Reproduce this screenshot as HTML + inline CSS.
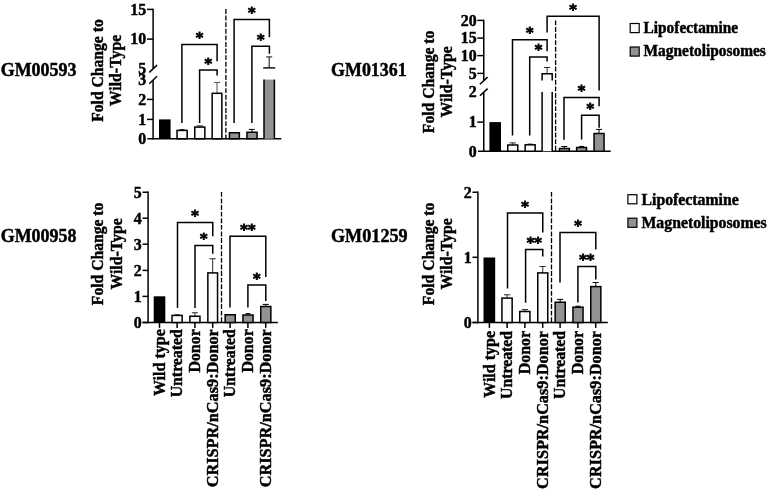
<!DOCTYPE html>
<html lang="en"><head><meta charset="utf-8"><title>Fold Change to Wild-Type</title>
<style>html,body{margin:0;padding:0;background:#fff;}svg{display:block;}text{font-family:"Liberation Serif",serif;font-weight:bold;fill:#000;stroke:#000;stroke-width:0.45px;}text.st{font-family:"DejaVu Sans","Liberation Sans",sans-serif;stroke-width:0.85px;}</style>
</head><body>
<svg width="768" height="489" viewBox="0 0 768 489">
<rect width="768" height="489" fill="#fff"/>
<text x="0.7" y="76.0" font-size="18.5" text-anchor="start" textLength="75.8" lengthAdjust="spacingAndGlyphs">GM00593</text>
<text x="331.1" y="76.0" font-size="18.5" text-anchor="start" textLength="75.5" lengthAdjust="spacingAndGlyphs">GM01361</text>
<text x="0.7" y="242.2" font-size="18.5" text-anchor="start" textLength="75.8" lengthAdjust="spacingAndGlyphs">GM00958</text>
<text x="331.0" y="242.4" font-size="18.5" text-anchor="start" textLength="76.6" lengthAdjust="spacingAndGlyphs">GM01259</text>
<rect x="630.2" y="23.5" width="9.0" height="9.1" fill="#fafafa" stroke="#000" stroke-width="1.2"/>
<rect x="630.2" y="47.0" width="9.0" height="9.1" fill="#929292" stroke="#000" stroke-width="1.2"/>
<text x="643.6" y="33" font-size="15.7" text-anchor="start" textLength="94.6" lengthAdjust="spacingAndGlyphs">Lipofectamine</text>
<text x="643.6" y="56" font-size="15.7" text-anchor="start" textLength="122.2" lengthAdjust="spacingAndGlyphs">Magnetoliposomes</text>
<rect x="627.9" y="194.7" width="9.0" height="9.1" fill="#fafafa" stroke="#000" stroke-width="1.2"/>
<rect x="627.9" y="218.2" width="9.0" height="9.1" fill="#929292" stroke="#000" stroke-width="1.2"/>
<text x="641.5" y="205" font-size="15.7" text-anchor="start" textLength="97.3" lengthAdjust="spacingAndGlyphs">Lipofectamine</text>
<text x="641.5" y="228" font-size="15.7" text-anchor="start" textLength="125.2" lengthAdjust="spacingAndGlyphs">Magnetoliposomes</text>
<text x="103" y="70.5" font-size="16" text-anchor="middle" transform="rotate(-90 103 70.5)" textLength="102.5" lengthAdjust="spacingAndGlyphs">Fold Change to</text>
<text x="121" y="70.5" font-size="16" text-anchor="middle" transform="rotate(-90 121 70.5)" textLength="71.4" lengthAdjust="spacingAndGlyphs">Wild-Type</text>
<line x1="153.1" y1="8.65" x2="153.1" y2="68.2" stroke="#000" stroke-width="1.5" />
<line x1="153.1" y1="80.2" x2="153.1" y2="139.5" stroke="#000" stroke-width="1.5" />
<line x1="149.3" y1="72.4" x2="157.0" y2="65.1" stroke="#000" stroke-width="1.5" />
<line x1="149.3" y1="83.7" x2="157.0" y2="76.2" stroke="#000" stroke-width="1.5" />
<line x1="147.3" y1="138.75" x2="281.3" y2="138.75" stroke="#000" stroke-width="1.5" />
<line x1="147.0" y1="9.4" x2="153.1" y2="9.4" stroke="#000" stroke-width="1.5" />
<line x1="147.0" y1="39.1" x2="153.1" y2="39.1" stroke="#000" stroke-width="1.5" />
<line x1="147.0" y1="99.4" x2="153.1" y2="99.4" stroke="#000" stroke-width="1.5" />
<line x1="147.0" y1="119.4" x2="153.1" y2="119.4" stroke="#000" stroke-width="1.5" />
<text x="146.2" y="14.7" font-size="15.9" text-anchor="end">15</text>
<text x="146.2" y="44.4" font-size="15.9" text-anchor="end">10</text>
<text x="146.2" y="74.2" font-size="15.9" text-anchor="end">5</text>
<text x="146.2" y="85.3" font-size="15.9" text-anchor="end">3</text>
<text x="146.2" y="104.7" font-size="15.9" text-anchor="end">2</text>
<text x="146.2" y="124.7" font-size="15.9" text-anchor="end">1</text>
<text x="146.2" y="144.2" font-size="15.9" text-anchor="end">0</text>
<line x1="225.9" y1="9.0" x2="225.9" y2="139.6" stroke="#000" stroke-width="1.3" stroke-dasharray="4.9 1.7"/>
<rect x="159.0" y="119.4" width="11.6" height="19.35" fill="#000"/>
<line x1="182.10000000000002" y1="129.6" x2="182.10000000000002" y2="130.4" stroke="#2a2a2a" stroke-width="1.0" />
<line x1="179.6" y1="129.6" x2="184.6" y2="129.6" stroke="#2a2a2a" stroke-width="1.0" />
<rect x="177.05" y="130.4" width="10.1" height="8.35" fill="#fafafa" stroke="#000" stroke-width="1.5"/>
<line x1="199.8" y1="125.9" x2="199.8" y2="127.1" stroke="#2a2a2a" stroke-width="1.0" />
<line x1="196.4" y1="125.9" x2="203.1" y2="125.9" stroke="#2a2a2a" stroke-width="1.0" />
<rect x="194.75" y="127.1" width="10.1" height="11.65" fill="#fafafa" stroke="#000" stroke-width="1.5"/>
<line x1="217.0" y1="82.5" x2="217.0" y2="93.3" stroke="#555" stroke-width="1.0" />
<line x1="214.0" y1="82.5" x2="220.1" y2="82.5" stroke="#555" stroke-width="1.0" />
<rect x="212.15" y="93.3" width="9.7" height="45.45" fill="#fafafa" stroke="#000" stroke-width="1.5"/>
<rect x="229.45" y="132.75" width="9.9" height="6.0" fill="#929292" stroke="#000" stroke-width="1.5"/>
<line x1="252.0" y1="129.4" x2="252.0" y2="132.25" stroke="#000" stroke-width="1.0" />
<line x1="248.8" y1="129.4" x2="254.8" y2="129.4" stroke="#000" stroke-width="1.0" />
<rect x="246.95" y="132.25" width="10.1" height="6.5" fill="#929292" stroke="#000" stroke-width="1.5"/>
<rect x="264.0" y="79.6" width="10.4" height="59.15" fill="#929292"/>
<line x1="264.0" y1="79.6" x2="264.0" y2="138.75" stroke="#000" stroke-width="1.5" />
<line x1="274.4" y1="79.6" x2="274.4" y2="138.75" stroke="#000" stroke-width="1.5" />
<line x1="269.2" y1="56.9" x2="269.2" y2="67.9" stroke="#222" stroke-width="1.1" />
<line x1="266.2" y1="56.9" x2="272.2" y2="56.9" stroke="#222" stroke-width="1.1" />
<line x1="263.2" y1="67.9" x2="275.2" y2="67.9" stroke="#000" stroke-width="1.4" />
<polyline points="181.9,122.9 181.9,44.6 217.1,44.6 217.1,61.25" fill="none" stroke="#000" stroke-width="1.5" stroke-linejoin="miter"/>
<text class="st" x="199.5" y="42" font-size="14.4" text-anchor="middle">*</text>
<polyline points="199.6,122.9 199.6,70.0 217.1,70.0 217.1,75.6" fill="none" stroke="#000" stroke-width="1.5" stroke-linejoin="miter"/>
<text class="st" x="208.35" y="68" font-size="14.4" text-anchor="middle">*</text>
<polyline points="234.1,122.9 234.1,19.6 269.4,19.6 269.4,37.25" fill="none" stroke="#000" stroke-width="1.5" stroke-linejoin="miter"/>
<text class="st" x="251.75" y="17" font-size="14.4" text-anchor="middle">*</text>
<polyline points="251.9,122.9 251.9,46.25 269.4,46.25 269.4,53.75" fill="none" stroke="#000" stroke-width="1.5" stroke-linejoin="miter"/>
<text class="st" x="260.65" y="44" font-size="14.4" text-anchor="middle">*</text>
<text x="434" y="81.9" font-size="16" text-anchor="middle" transform="rotate(-90 434 81.9)" textLength="102.5" lengthAdjust="spacingAndGlyphs">Fold Change to</text>
<text x="452" y="81.9" font-size="16" text-anchor="middle" transform="rotate(-90 452 81.9)" textLength="71.4" lengthAdjust="spacingAndGlyphs">Wild-Type</text>
<line x1="483.75" y1="19.65" x2="483.75" y2="80.4" stroke="#000" stroke-width="1.5" />
<line x1="483.75" y1="92.4" x2="483.75" y2="152.0" stroke="#000" stroke-width="1.5" />
<line x1="479.9" y1="84.3" x2="487.6" y2="77.1" stroke="#000" stroke-width="1.5" />
<line x1="479.9" y1="95.8" x2="487.6" y2="88.6" stroke="#000" stroke-width="1.5" />
<line x1="478.0" y1="151.25" x2="610.7" y2="151.25" stroke="#000" stroke-width="1.5" />
<line x1="477.3" y1="20.4" x2="483.75" y2="20.4" stroke="#000" stroke-width="1.5" />
<line x1="477.3" y1="38.1" x2="483.75" y2="38.1" stroke="#000" stroke-width="1.5" />
<line x1="477.3" y1="55.6" x2="483.75" y2="55.6" stroke="#000" stroke-width="1.5" />
<line x1="477.3" y1="73.4" x2="483.75" y2="73.4" stroke="#000" stroke-width="1.5" />
<line x1="477.3" y1="122.1" x2="483.75" y2="122.1" stroke="#000" stroke-width="1.5" />
<text x="476.6" y="25.9" font-size="15.9" text-anchor="end">20</text>
<text x="476.6" y="43.4" font-size="15.9" text-anchor="end">15</text>
<text x="476.6" y="60.9" font-size="15.9" text-anchor="end">10</text>
<text x="476.6" y="78.8" font-size="15.9" text-anchor="end">5</text>
<text x="476.6" y="96.9" font-size="15.9" text-anchor="end">2</text>
<text x="476.6" y="127.3" font-size="15.9" text-anchor="end">1</text>
<text x="476.6" y="156.9" font-size="15.9" text-anchor="end">0</text>
<line x1="555.6" y1="20.4" x2="555.6" y2="152.2" stroke="#000" stroke-width="1.3" stroke-dasharray="4.9 1.7"/>
<rect x="489.4" y="122.1" width="11.6" height="29.15" fill="#000"/>
<line x1="512.75" y1="142.9" x2="512.75" y2="145.0" stroke="#2a2a2a" stroke-width="1.0" />
<line x1="509.6" y1="142.9" x2="515.9" y2="142.9" stroke="#2a2a2a" stroke-width="1.0" />
<rect x="507.75" y="145.0" width="10.0" height="6.25" fill="#fafafa" stroke="#000" stroke-width="1.5"/>
<line x1="530.15" y1="144.1" x2="530.15" y2="144.8" stroke="#2a2a2a" stroke-width="1.0" />
<line x1="527.6" y1="144.1" x2="532.6" y2="144.1" stroke="#2a2a2a" stroke-width="1.0" />
<rect x="525.15" y="144.8" width="10.0" height="6.45" fill="#fafafa" stroke="#000" stroke-width="1.5"/>
<rect x="542.1" y="73.1" width="10.1" height="7.3" fill="#fafafa"/>
<rect x="542.1" y="92.1" width="10.1" height="59.15" fill="#fafafa"/>
<line x1="547.1" y1="67.5" x2="547.1" y2="73.1" stroke="#2a2a2a" stroke-width="1.0" />
<line x1="544.1" y1="67.5" x2="550.1" y2="67.5" stroke="#2a2a2a" stroke-width="1.0" />
<polyline points="542.1,80.4 542.1,73.7 552.2,73.7 552.2,80.4" fill="none" stroke="#000" stroke-width="1.5"/>
<line x1="542.1" y1="92.1" x2="542.1" y2="151.25" stroke="#000" stroke-width="1.5" />
<line x1="552.2" y1="92.1" x2="552.2" y2="151.25" stroke="#000" stroke-width="1.5" />
<line x1="564.4000000000001" y1="146.5" x2="564.4000000000001" y2="148.5" stroke="#000" stroke-width="1.0" />
<line x1="561.3" y1="146.5" x2="567.3" y2="146.5" stroke="#000" stroke-width="1.0" />
<rect x="559.45" y="148.5" width="9.9" height="2.75" fill="#929292" stroke="#000" stroke-width="1.5"/>
<line x1="581.5999999999999" y1="146.4" x2="581.5999999999999" y2="147.5" stroke="#000" stroke-width="1.0" />
<line x1="579.0" y1="146.4" x2="584.2" y2="146.4" stroke="#000" stroke-width="1.0" />
<rect x="576.65" y="147.5" width="9.9" height="3.75" fill="#929292" stroke="#000" stroke-width="1.5"/>
<line x1="599.05" y1="129.4" x2="599.05" y2="133.5" stroke="#000" stroke-width="1.0" />
<line x1="596.0" y1="129.4" x2="602.0" y2="129.4" stroke="#000" stroke-width="1.0" />
<rect x="594.05" y="133.5" width="10.0" height="17.75" fill="#929292" stroke="#000" stroke-width="1.5"/>
<polyline points="512.5,135.6 512.5,39.75 547.1,39.75 547.1,51.25" fill="none" stroke="#000" stroke-width="1.5" stroke-linejoin="miter"/>
<text class="st" x="529.8" y="37" font-size="14.4" text-anchor="middle">*</text>
<polyline points="529.7,135.6 529.7,56.9 547.1,56.9 547.1,61.5" fill="none" stroke="#000" stroke-width="1.5" stroke-linejoin="miter"/>
<text class="st" x="538.4" y="54" font-size="14.4" text-anchor="middle">*</text>
<polyline points="547.1,32.5 547.1,16.25 599.1,16.25 599.1,90.6" fill="none" stroke="#000" stroke-width="1.5" stroke-linejoin="miter"/>
<text class="st" x="573.1" y="14" font-size="14.4" text-anchor="middle">*</text>
<polyline points="564.0,139.75 564.0,97.5 599.1,97.5 599.1,106.25" fill="none" stroke="#000" stroke-width="1.5" stroke-linejoin="miter"/>
<text class="st" x="581.55" y="95" font-size="14.4" text-anchor="middle">*</text>
<polyline points="581.6,139.4 581.6,115.25 599.1,115.25 599.1,127.75" fill="none" stroke="#000" stroke-width="1.5" stroke-linejoin="miter"/>
<text class="st" x="590.35" y="113" font-size="14.4" text-anchor="middle">*</text>
<text x="103" y="253.9" font-size="16" text-anchor="middle" transform="rotate(-90 103 253.9)" textLength="102.5" lengthAdjust="spacingAndGlyphs">Fold Change to</text>
<text x="122" y="253.9" font-size="16" text-anchor="middle" transform="rotate(-90 122 253.9)" textLength="71.4" lengthAdjust="spacingAndGlyphs">Wild-Type</text>
<line x1="148.1" y1="191.5" x2="148.1" y2="323.25" stroke="#000" stroke-width="1.5" />
<line x1="142.5" y1="322.5" x2="277.8" y2="322.5" stroke="#000" stroke-width="1.5" />
<line x1="142.5" y1="192.25" x2="148.1" y2="192.25" stroke="#000" stroke-width="1.5" />
<text x="141.6" y="197.55" font-size="15.9" text-anchor="end">5</text>
<line x1="142.5" y1="218.2" x2="148.1" y2="218.2" stroke="#000" stroke-width="1.5" />
<text x="141.6" y="223.5" font-size="15.9" text-anchor="end">4</text>
<line x1="142.5" y1="244.2" x2="148.1" y2="244.2" stroke="#000" stroke-width="1.5" />
<text x="141.6" y="249.5" font-size="15.9" text-anchor="end">3</text>
<line x1="142.5" y1="270.4" x2="148.1" y2="270.4" stroke="#000" stroke-width="1.5" />
<text x="141.6" y="275.7" font-size="15.9" text-anchor="end">2</text>
<line x1="142.5" y1="296.4" x2="148.1" y2="296.4" stroke="#000" stroke-width="1.5" />
<text x="141.6" y="301.7" font-size="15.9" text-anchor="end">1</text>
<line x1="142.5" y1="322.5" x2="148.1" y2="322.5" stroke="#000" stroke-width="1.5" />
<text x="141.6" y="327.8" font-size="15.9" text-anchor="end">0</text>
<line x1="221.5" y1="191.9" x2="221.5" y2="323.4" stroke="#000" stroke-width="1.3" stroke-dasharray="4.9 1.7"/>
<rect x="153.7" y="296.3" width="11.6" height="26.2" fill="#000"/>
<line x1="177.10000000000002" y1="314.8" x2="177.10000000000002" y2="315.4" stroke="#2a2a2a" stroke-width="1.0" />
<line x1="174.6" y1="314.8" x2="179.6" y2="314.8" stroke="#2a2a2a" stroke-width="1.0" />
<rect x="172.05" y="315.4" width="10.1" height="7.1" fill="#fafafa" stroke="#000" stroke-width="1.5"/>
<line x1="194.89999999999998" y1="312.75" x2="194.89999999999998" y2="316.25" stroke="#2a2a2a" stroke-width="1.0" />
<line x1="191.9" y1="312.75" x2="197.9" y2="312.75" stroke="#2a2a2a" stroke-width="1.0" />
<rect x="189.85" y="316.25" width="10.1" height="6.25" fill="#fafafa" stroke="#000" stroke-width="1.5"/>
<line x1="212.7" y1="258.75" x2="212.7" y2="272.9" stroke="#2a2a2a" stroke-width="1.0" />
<line x1="209.5" y1="258.75" x2="215.7" y2="258.75" stroke="#2a2a2a" stroke-width="1.0" />
<rect x="207.85" y="272.9" width="9.7" height="49.6" fill="#fafafa" stroke="#000" stroke-width="1.5"/>
<rect x="225.15" y="314.75" width="10.1" height="7.75" fill="#929292" stroke="#000" stroke-width="1.5"/>
<line x1="248.0" y1="313.7" x2="248.0" y2="315.0" stroke="#000" stroke-width="1.0" />
<line x1="245.4" y1="313.7" x2="250.6" y2="313.7" stroke="#000" stroke-width="1.0" />
<rect x="242.95" y="315.0" width="10.1" height="7.5" fill="#929292" stroke="#000" stroke-width="1.5"/>
<line x1="265.8" y1="304.4" x2="265.8" y2="306.5" stroke="#000" stroke-width="1.0" />
<line x1="262.6" y1="304.4" x2="268.8" y2="304.4" stroke="#000" stroke-width="1.0" />
<rect x="260.75" y="306.5" width="10.1" height="16.0" fill="#929292" stroke="#000" stroke-width="1.5"/>
<line x1="159.5" y1="322.5" x2="159.5" y2="327.9" stroke="#000" stroke-width="1.5" />
<text x="164.8" y="329.2" font-size="16.2" text-anchor="end" transform="rotate(-90 164.8 329.2)" textLength="66.9" lengthAdjust="spacingAndGlyphs">Wild type</text>
<line x1="177.1" y1="322.5" x2="177.1" y2="327.9" stroke="#000" stroke-width="1.5" />
<text x="182.4" y="329.2" font-size="16.2" text-anchor="end" transform="rotate(-90 182.4 329.2)" textLength="68.1" lengthAdjust="spacingAndGlyphs">Untreated</text>
<line x1="194.9" y1="322.5" x2="194.9" y2="327.9" stroke="#000" stroke-width="1.5" />
<text x="199.8" y="329.2" font-size="16.2" text-anchor="end" transform="rotate(-90 199.8 329.2)" textLength="43.4" lengthAdjust="spacingAndGlyphs">Donor</text>
<line x1="212.7" y1="322.5" x2="212.7" y2="327.9" stroke="#000" stroke-width="1.5" />
<text x="217.6" y="329.2" font-size="16.2" text-anchor="end" transform="rotate(-90 217.6 329.2)" textLength="158.0" lengthAdjust="spacingAndGlyphs">CRISPR/nCas9:Donor</text>
<line x1="230.1" y1="322.5" x2="230.1" y2="327.9" stroke="#000" stroke-width="1.5" />
<text x="235.4" y="329.2" font-size="16.2" text-anchor="end" transform="rotate(-90 235.4 329.2)" textLength="68.1" lengthAdjust="spacingAndGlyphs">Untreated</text>
<line x1="247.9" y1="322.5" x2="247.9" y2="327.9" stroke="#000" stroke-width="1.5" />
<text x="252.8" y="329.2" font-size="16.2" text-anchor="end" transform="rotate(-90 252.8 329.2)" textLength="43.4" lengthAdjust="spacingAndGlyphs">Donor</text>
<line x1="265.7" y1="322.5" x2="265.7" y2="327.9" stroke="#000" stroke-width="1.5" />
<text x="270.7" y="329.2" font-size="16.2" text-anchor="end" transform="rotate(-90 270.7 329.2)" textLength="158.0" lengthAdjust="spacingAndGlyphs">CRISPR/nCas9:Donor</text>
<polyline points="177.5,308.1 177.5,222.5 212.75,222.5 212.75,236.25" fill="none" stroke="#000" stroke-width="1.5" stroke-linejoin="miter"/>
<text class="st" x="195.12" y="220" font-size="14.4" text-anchor="middle">*</text>
<polyline points="195.0,308.1 195.0,245.6 212.75,245.6 212.75,253.75" fill="none" stroke="#000" stroke-width="1.5" stroke-linejoin="miter"/>
<text class="st" x="203.88" y="243" font-size="14.4" text-anchor="middle">*</text>
<polyline points="230.0,307.5 230.0,236.2 265.8,236.2 265.8,276.9" fill="none" stroke="#000" stroke-width="1.5" stroke-linejoin="miter"/>
<text class="st" x="247.9" y="234" font-size="14.4" text-anchor="middle">**</text>
<polyline points="247.9,307.5 247.9,285.0 265.8,285.0 265.8,301.0" fill="none" stroke="#000" stroke-width="1.5" stroke-linejoin="miter"/>
<text class="st" x="256.85" y="283" font-size="14.4" text-anchor="middle">*</text>
<text x="434" y="253.9" font-size="16" text-anchor="middle" transform="rotate(-90 434 253.9)" textLength="102.5" lengthAdjust="spacingAndGlyphs">Fold Change to</text>
<text x="452" y="253.9" font-size="16" text-anchor="middle" transform="rotate(-90 452 253.9)" textLength="71.4" lengthAdjust="spacingAndGlyphs">Wild-Type</text>
<line x1="477.9" y1="191.5" x2="477.9" y2="323.25" stroke="#000" stroke-width="1.5" />
<line x1="472.5" y1="322.5" x2="607.8" y2="322.5" stroke="#000" stroke-width="1.5" />
<line x1="472.5" y1="192.25" x2="477.9" y2="192.25" stroke="#000" stroke-width="1.5" />
<text x="471.6" y="197.55" font-size="15.9" text-anchor="end">2</text>
<line x1="472.5" y1="257.3" x2="477.9" y2="257.3" stroke="#000" stroke-width="1.5" />
<text x="471.6" y="262.6" font-size="15.9" text-anchor="end">1</text>
<line x1="472.5" y1="322.5" x2="477.9" y2="322.5" stroke="#000" stroke-width="1.5" />
<text x="471.6" y="327.8" font-size="15.9" text-anchor="end">0</text>
<line x1="551.5" y1="191.9" x2="551.5" y2="323.4" stroke="#000" stroke-width="1.3" stroke-dasharray="4.9 1.7"/>
<rect x="483.5" y="257.5" width="11.7" height="65.0" fill="#000"/>
<line x1="507.04999999999995" y1="294.75" x2="507.04999999999995" y2="298.1" stroke="#2a2a2a" stroke-width="1.0" />
<line x1="504.0" y1="294.75" x2="510.3" y2="294.75" stroke="#2a2a2a" stroke-width="1.0" />
<rect x="501.95" y="298.1" width="10.2" height="24.4" fill="#fafafa" stroke="#000" stroke-width="1.5"/>
<line x1="524.85" y1="309.6" x2="524.85" y2="311.5" stroke="#2a2a2a" stroke-width="1.0" />
<line x1="521.7" y1="309.6" x2="528.1" y2="309.6" stroke="#2a2a2a" stroke-width="1.0" />
<rect x="519.75" y="311.5" width="10.2" height="11.0" fill="#fafafa" stroke="#000" stroke-width="1.5"/>
<line x1="542.75" y1="266.5" x2="542.75" y2="272.9" stroke="#2a2a2a" stroke-width="1.0" />
<line x1="539.5" y1="266.5" x2="545.7" y2="266.5" stroke="#2a2a2a" stroke-width="1.0" />
<rect x="537.75" y="272.9" width="10.0" height="49.6" fill="#fafafa" stroke="#000" stroke-width="1.5"/>
<line x1="560.2" y1="299.4" x2="560.2" y2="302.25" stroke="#000" stroke-width="1.0" />
<line x1="557.0" y1="299.4" x2="563.2" y2="299.4" stroke="#000" stroke-width="1.0" />
<rect x="555.15" y="302.25" width="10.1" height="20.25" fill="#929292" stroke="#000" stroke-width="1.5"/>
<line x1="578.0" y1="306.2" x2="578.0" y2="307.2" stroke="#000" stroke-width="1.0" />
<line x1="575.4" y1="306.2" x2="580.6" y2="306.2" stroke="#000" stroke-width="1.0" />
<rect x="572.95" y="307.2" width="10.1" height="15.3" fill="#929292" stroke="#000" stroke-width="1.5"/>
<line x1="595.8" y1="282.5" x2="595.8" y2="286.6" stroke="#000" stroke-width="1.0" />
<line x1="592.6" y1="282.5" x2="598.6" y2="282.5" stroke="#000" stroke-width="1.0" />
<rect x="590.75" y="286.6" width="10.1" height="35.9" fill="#929292" stroke="#000" stroke-width="1.5"/>
<line x1="489.4" y1="322.5" x2="489.4" y2="327.9" stroke="#000" stroke-width="1.5" />
<text x="494.7" y="330.9" font-size="16.2" text-anchor="end" transform="rotate(-90 494.7 330.9)" textLength="66.9" lengthAdjust="spacingAndGlyphs">Wild type</text>
<line x1="507.1" y1="322.5" x2="507.1" y2="327.9" stroke="#000" stroke-width="1.5" />
<text x="512.4" y="330.9" font-size="16.2" text-anchor="end" transform="rotate(-90 512.4 330.9)" textLength="68.1" lengthAdjust="spacingAndGlyphs">Untreated</text>
<line x1="524.9" y1="322.5" x2="524.9" y2="327.9" stroke="#000" stroke-width="1.5" />
<text x="529.8" y="330.9" font-size="16.2" text-anchor="end" transform="rotate(-90 529.8 330.9)" textLength="43.4" lengthAdjust="spacingAndGlyphs">Donor</text>
<line x1="542.7" y1="322.5" x2="542.7" y2="327.9" stroke="#000" stroke-width="1.5" />
<text x="547.6" y="330.9" font-size="16.2" text-anchor="end" transform="rotate(-90 547.6 330.9)" textLength="158.0" lengthAdjust="spacingAndGlyphs">CRISPR/nCas9:Donor</text>
<line x1="560.1" y1="322.5" x2="560.1" y2="327.9" stroke="#000" stroke-width="1.5" />
<text x="565.4" y="330.9" font-size="16.2" text-anchor="end" transform="rotate(-90 565.4 330.9)" textLength="68.1" lengthAdjust="spacingAndGlyphs">Untreated</text>
<line x1="577.9" y1="322.5" x2="577.9" y2="327.9" stroke="#000" stroke-width="1.5" />
<text x="582.8" y="330.9" font-size="16.2" text-anchor="end" transform="rotate(-90 582.8 330.9)" textLength="43.4" lengthAdjust="spacingAndGlyphs">Donor</text>
<line x1="595.7" y1="322.5" x2="595.7" y2="327.9" stroke="#000" stroke-width="1.5" />
<text x="600.7" y="330.9" font-size="16.2" text-anchor="end" transform="rotate(-90 600.7 330.9)" textLength="158.0" lengthAdjust="spacingAndGlyphs">CRISPR/nCas9:Donor</text>
<polyline points="507.5,288.5 507.5,213.1 542.75,213.1 542.75,232.5" fill="none" stroke="#000" stroke-width="1.5" stroke-linejoin="miter"/>
<text class="st" x="525.12" y="211" font-size="14.4" text-anchor="middle">*</text>
<polyline points="525.6,302.75 525.6,249.4 542.75,249.4 542.75,256.5" fill="none" stroke="#000" stroke-width="1.5" stroke-linejoin="miter"/>
<text class="st" x="534.17" y="247" font-size="14.4" text-anchor="middle">**</text>
<polyline points="560.0,282.5 560.0,232.4 595.8,232.4 595.8,249.4" fill="none" stroke="#000" stroke-width="1.5" stroke-linejoin="miter"/>
<text class="st" x="577.9" y="230" font-size="14.4" text-anchor="middle">*</text>
<polyline points="577.9,302.5 577.9,266.6 595.8,266.6 595.8,279.4" fill="none" stroke="#000" stroke-width="1.5" stroke-linejoin="miter"/>
<text class="st" x="586.85" y="264" font-size="14.4" text-anchor="middle">**</text>
</svg></body></html>
